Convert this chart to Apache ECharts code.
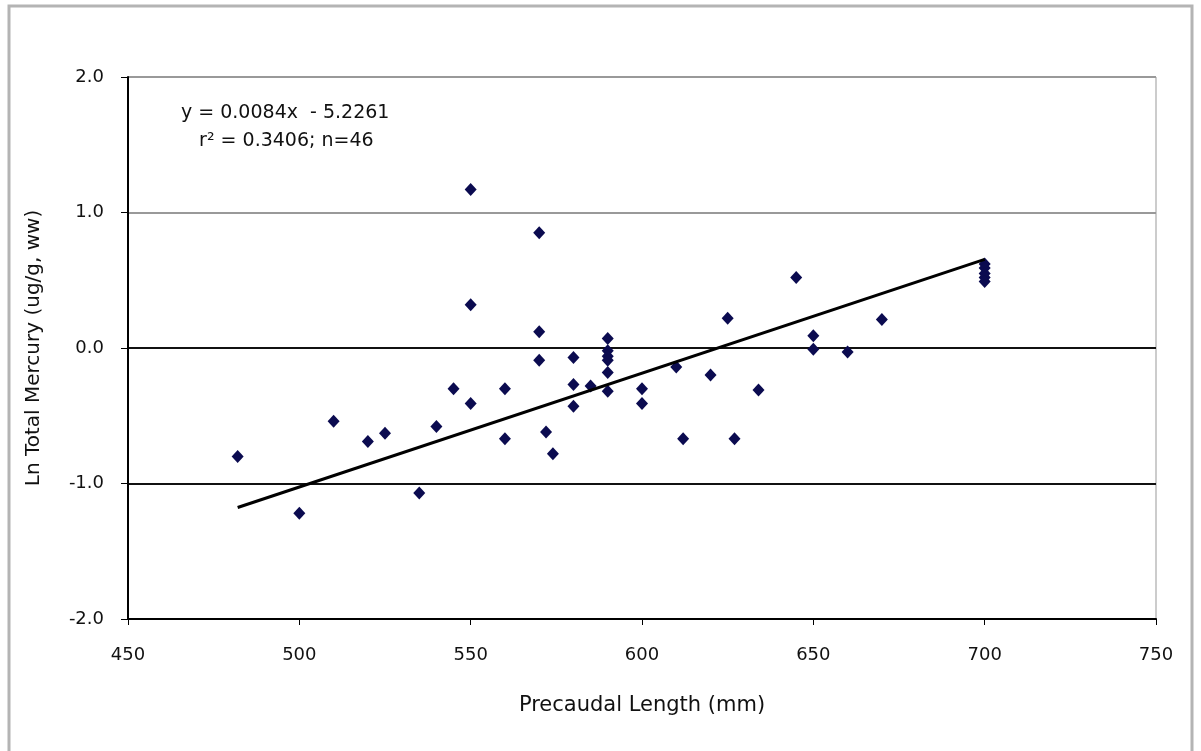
<!DOCTYPE html>
<html>
<head>
<meta charset="utf-8">
<script src="https://cdn.jsdelivr.net/npm/echarts@6/dist/echarts.min.js"></script>
<style>
  html, body { margin: 0; padding: 0; background: #fff; }
  #chart { width: 1201px; height: 751px; }
</style>
</head>
<body>
<div id="chart"></div>
<script>
// Precaudal length (mm) and ln total mercury (ug/g, ww)
const lengthMm = [
  482, 500, 510, 520, 525, 535, 540, 545, 550, 550, 550, 560, 560,
  570, 570, 570, 572, 574, 580, 580, 580, 585,
  590, 590, 590, 590, 590, 590, 600, 600, 610, 612, 620, 625, 627, 634,
  645, 650, 650, 660, 670, 700, 700, 700, 700, 700
];
const lnMercury = [
  -0.80, -1.22, -0.54, -0.69, -0.63, -1.07, -0.58, -0.30, 1.17, 0.32, -0.41, -0.30, -0.67,
  0.85, 0.12, -0.09, -0.62, -0.78, -0.07, -0.27, -0.43, -0.28,
  0.07, -0.02, -0.06, -0.09, -0.18, -0.32, -0.30, -0.41, -0.14, -0.67, -0.20, 0.22, -0.67, -0.31,
  0.52, 0.09, -0.01, -0.03, 0.21, 0.62, 0.59, 0.55, 0.52, 0.49
];
// regression line y = 0.0084x - 5.2261 over the data range
const trendX = [482, 700];
const trendY = [0.0084 * 482 - 5.2261, 0.0084 * 700 - 5.2261];

const xTicks = [450, 500, 550, 600, 650, 700, 750];
const yTicks = [-2, -1, 0, 1, 2];

const chart = echarts.init(document.getElementById('chart'));
const font = '"DejaVu Sans", Verdana, sans-serif';

chart.setOption({
  backgroundColor: '#fff',
  animation: false,
  textStyle: { fontFamily: font },
  graphic: [{
    type: 'rect',
    shape: { x: 9, y: 6, width: 1183, height: 760 },
    style: { fill: 'none', stroke: '#b4b4b4', lineWidth: 3 },
    silent: true
  }, {
    type: 'text',
    left: 181,
    top: 99,
    style: {
      text: 'y = 0.0084x  - 5.2261\n   r² = 0.3406; n=46',
      font: '19px ' + font,
      fill: '#111',
      lineHeight: 28
    }
  }],
  grid: {
    left: 128,
    right: 45,
    top: 77,
    bottom: 132,
    show: true,
    borderColor: '#999',
    borderWidth: 1
  },
  xAxis: {
    type: 'value',
    min: xTicks[0],
    max: xTicks[xTicks.length - 1],
    interval: 50,
    name: 'Precaudal Length (mm)',
    nameLocation: 'middle',
    nameGap: 76,
    nameTextStyle: { fontSize: 21, color: '#111' },
    axisLine: { onZero: false, lineStyle: { color: '#000', width: 2 } },
    axisTick: { length: 6, lineStyle: { color: '#000' } },
    axisLabel: { fontSize: 18, color: '#111', margin: 27 },
    splitLine: { show: false }
  },
  yAxis: {
    type: 'value',
    min: yTicks[0],
    max: yTicks[yTicks.length - 1],
    interval: 1,
    name: 'Ln Total Mercury (ug/g, ww)',
    nameLocation: 'middle',
    nameGap: 84,
    nameTextStyle: { fontSize: 20, color: '#111' },
    axisLine: { show: true, onZero: false, lineStyle: { color: '#000', width: 2 } },
    axisTick: { show: true, length: 7, lineStyle: { color: '#000' } },
    axisLabel: {
      fontSize: 18,
      color: '#111',
      margin: 24,
      formatter: v => v.toFixed(1)
    },
    splitLine: {
      show: true,
      lineStyle: { color: ['#000', '#111', '#111', '#999', '#999'], width: 2 }
    }
  },
  series: [{
    name: 'Ln Hg',
    type: 'scatter',
    symbol: 'diamond',
    symbolSize: [12, 13],
    itemStyle: { color: '#0b0b50', opacity: 1 },
    data: lengthMm.map((x, i) => [x, lnMercury[i]]),
    z: 3
  }, {
    name: 'Linear',
    type: 'line',
    symbol: 'none',
    lineStyle: { color: '#000', width: 3 },
    data: trendX.map((x, i) => [x, trendY[i]]),
    z: 4
  }]
});
</script>
</body>
</html>
